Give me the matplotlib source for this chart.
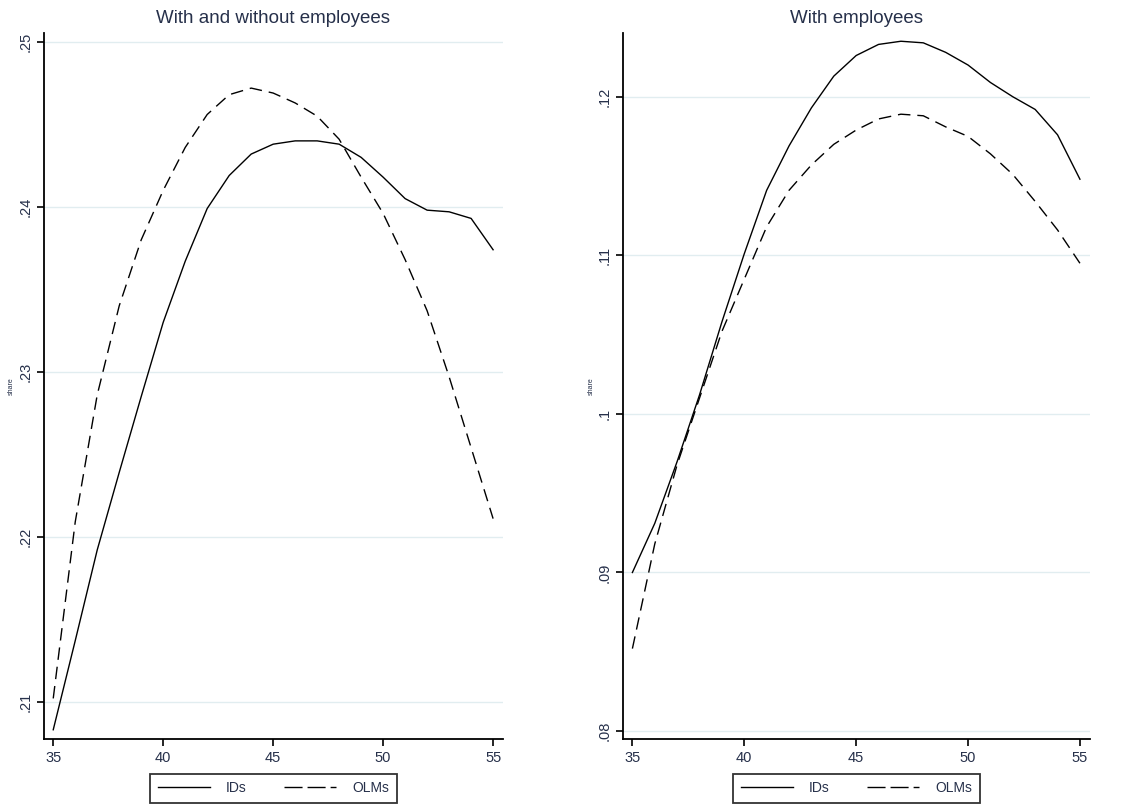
import matplotlib.pyplot as plt
from matplotlib.ticker import FuncFormatter

age = list(range(35, 56))

# With and without employees
all_ids = [.2083, .2137, .2192, .2239, .2285, .2330, .2367, .2399, .2419, .2432, .2438,
           .2440, .2440, .2438, .2430, .2418, .2405, .2398, .2397, .2393, .2374]
all_olms = [.2102, .2209, .2286, .2340, .2380, .2410, .2436, .2456, .2468, .2472, .2469,
            .2463, .2455, .2441, .2418, .2396, .2368, .2337, .2297, .2254, .2211]

# With employees
emp_ids = [.0900, .0931, .0970, .1012, .1058, .1101, .1141, .1169, .1193, .1213, .1226,
           .1233, .1235, .1234, .1228, .1220, .1209, .1200, .1192, .1176, .1148]
emp_olms = [.0852, .0918, .0968, .1010, .1052, .1085, .1118, .1141, .1157, .1170, .1179,
            .1186, .1189, .1188, .1181, .1175, .1164, .1151, .1134, .1116, .1095]

all_ticks = [.21, .22, .23, .24, .25]
emp_ticks = [.08, .09, .10, .11, .12]
x_ticks = [35, 40, 45, 50, 55]

plt.rcParams['font.family'] = ['Liberation Sans', 'DejaVu Sans']
txt = '#26304a'
grid = '#e1edf0'


def stata_fmt(v, pos):
    s = ('%.2f' % v).rstrip('0')
    return s[1:] if s.startswith('0') else s


def panel(ax, ids, olms, ticks, ylim, title, ylab_x):
    ax.plot(age, ids, color='black', lw=1.0, label='IDs')
    ax.plot(age, olms, color='black', lw=1.0, dashes=(9, 5), label='OLMs')
    ax.set_xlim(34.58, 55.45)
    ax.set_ylim(*ylim)
    ax.set_xticks(x_ticks)
    ax.set_yticks(ticks)
    ax.yaxis.set_major_formatter(FuncFormatter(stata_fmt))
    for t in ticks:
        ax.axhline(t, color=grid, lw=1.0, zorder=0)
    for s in ['top', 'right']:
        ax.spines[s].set_visible(False)
    for s in ['left', 'bottom']:
        ax.spines[s].set_linewidth(1.3)
    ax.tick_params(axis='both', direction='out', length=5, width=1.2,
                   labelsize=10.5, labelcolor=txt)
    for lab in ax.get_yticklabels():
        lab.set_rotation(90)
        lab.set_va('center')
    ax.set_title(title, fontsize=13.5, color=txt, pad=7)
    ax.set_ylabel('share', fontsize=5, color=txt)
    ax.yaxis.set_label_coords(ylab_x, 0.5)
    leg = ax.legend(loc='upper center', bbox_to_anchor=(0.5, -0.049), ncol=2,
                    frameon=True, fancybox=False, edgecolor='black',
                    fontsize=10, handlelength=3.75, columnspacing=2.7,
                    borderpad=0.55, handletextpad=1.15, borderaxespad=0)
    leg.get_frame().set_linewidth(1.3)
    leg.get_lines()[1].set_dashes((13, 3.6))
    for t in leg.get_texts():
        t.set_color(txt)


fig = plt.figure(figsize=(11.39, 8.05), dpi=100)
ax1 = fig.add_axes([44 / 1139, 1 - 739 / 805, 459 / 1139, 706 / 805])
ax2 = fig.add_axes([623 / 1139, 1 - 739 / 805, 467 / 1139, 706 / 805])

panel(ax1, all_ids, all_olms, all_ticks, (.20774, .25054),
      'With and without employees', -0.064)
panel(ax2, emp_ids, emp_olms, emp_ticks, (.0795, .12402),
      'With employees', -0.06)

fig.savefig('out.png', dpi=100)
